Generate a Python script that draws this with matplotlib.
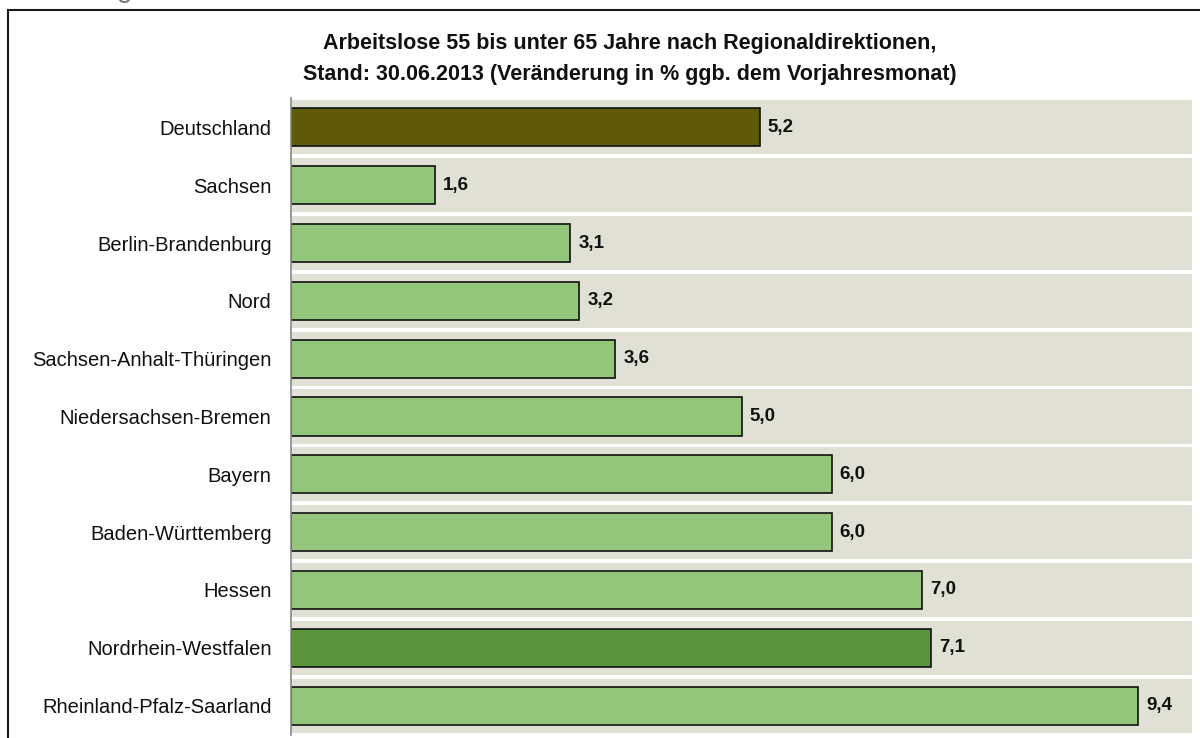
import matplotlib.pyplot as plt
from matplotlib.patches import Rectangle

plt.rcParams['font.family'] = ['Liberation Sans', 'DejaVu Sans']

# Daten: Veränderung in % ggb. Vorjahresmonat
regionen = ["Deutschland", "Sachsen", "Berlin-Brandenburg", "Nord",
            "Sachsen-Anhalt-Thüringen", "Niedersachsen-Bremen", "Bayern",
            "Baden-Württemberg", "Hessen", "Nordrhein-Westfalen",
            "Rheinland-Pfalz-Saarland"]
werte = [5.2, 1.6, 3.1, 3.2, 3.6, 5.0, 6.0, 6.0, 7.0, 7.1, 9.4]
farben = ["#5e5a08", "#93c57a", "#93c57a", "#93c57a", "#93c57a", "#93c57a",
          "#93c57a", "#93c57a", "#93c57a", "#5b923c", "#93c57a"]

titel = ("Arbeitslose 55 bis unter 65 Jahre nach Regionaldirektionen,\n"
         "Stand: 30.06.2013 (Veränderung in % ggb. dem Vorjahresmonat)")

fig = plt.figure(figsize=(12, 7.38), dpi=100)
fig.patch.set_facecolor("white")

# Rahmen um die Grafik
fig.patches.append(Rectangle((8 / 1200, -0.05), 1.2, 1 - 10 / 738 + 0.05,
                             transform=fig.transFigure, fill=False,
                             edgecolor="#1a1a1a", linewidth=1.5))
# abgeschnittene Überschrift oben
fig.text(125 / 1200, 1.004, "g", color="#6b7a6b", fontsize=20,
         ha="center", va="baseline")

ax = fig.add_axes([291 / 1200, 1 - 734.5 / 738, 901 / 1200, 636 / 738])
n = len(regionen)
y = list(range(n))

# Hintergrundstreifen je Zeile
for i in y:
    ax.axhspan(i - 0.467, i + 0.467, color="#e0e0d4", zorder=0, linewidth=0)

ax.barh(y, werte, height=0.66, color=farben, edgecolor="#111111",
        linewidth=1.2, zorder=2)

for i, v in zip(y, werte):
    ax.text(v + 0.09, i, f"{v:.1f}".replace(".", ","), va="center",
            ha="left", fontsize=13.5, fontweight="bold", color="#111111")

ax.set_xlim(0, 10)
ax.set_ylim(n - 0.5, -0.5)
ax.set_yticks(y)
ax.set_yticklabels(regionen, fontsize=14.5, color="#111111")
ax.tick_params(axis="y", length=0, pad=14)
ax.set_xticks([])
for s in ["top", "right", "bottom"]:
    ax.spines[s].set_visible(False)
ax.spines["left"].set_color("#888888")
ax.spines["left"].set_linewidth(1.2)
ax.set_facecolor("white")

fig.text(630 / 1200, 1 - 59 / 738, titel, ha="center", va="center",
         fontsize=15.5, fontweight="bold", color="#111111", linespacing=1.6)

fig.savefig("out.png", dpi=100)
